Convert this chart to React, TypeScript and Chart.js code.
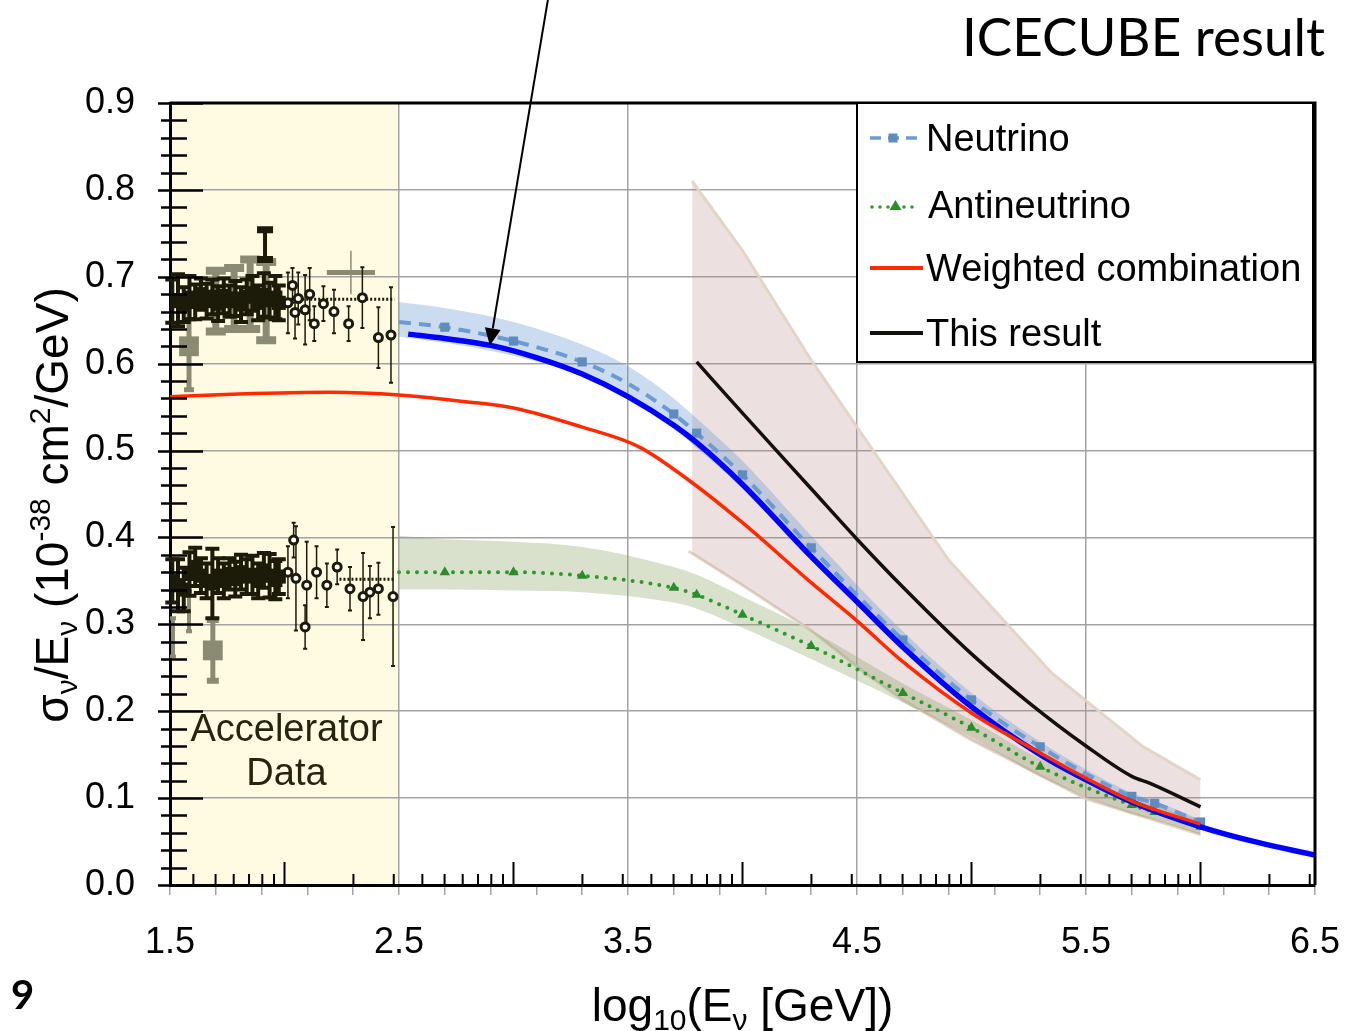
import React, { useEffect, useRef } from "react";
import { Chart, registerables } from "chart.js";

Chart.register(...registerables);

const FONT = "'Liberation Sans', Arial, Helvetica, sans-serif";
const TITLE_FONT = "Lato, 'Open Sans', sans-serif";

// ---------------- axes ----------------
const xRange = [1.5, 6.5];
const yRange = [0, 0.9];
const xLabelTicks = [1.5, 2.5, 3.5, 4.5, 5.5, 6.5];
const xStepTicks = [1.5, 1.7, 1.9, 2.1, 2.3, 2.5, 2.7, 2.9, 3.1, 3.3, 3.5, 3.7, 3.9, 4.1, 4.3, 4.5, 4.7, 4.9, 5.1, 5.3, 5.5, 5.7, 5.9, 6.1, 6.3, 6.5];
const xDecadesGeV = [10, 100, 1000, 10000, 100000, 1000000];
const xDecadeMultipliers = [2, 3, 4, 5, 6, 7, 8, 9];
const yLabelTicks = [0, 0.1, 0.2, 0.3, 0.4, 0.5, 0.6, 0.7, 0.8, 0.9];
const yMinorStep = 0.02;
const accelRegion = [1.5, 2.5];

// ---------------- model curves ----------------
const markerX = [2.7, 3.0, 3.3, 3.7, 3.8, 4.0, 4.3, 4.7, 5.0, 5.3, 5.7, 5.8, 6.0];

const nuX = [2.5, 2.7, 3.0, 3.3, 3.5, 3.7, 3.8, 4.0, 4.3, 4.7, 5.0, 5.3, 5.7, 5.8, 6.0];
const nuY = [0.648, 0.642, 0.626, 0.602, 0.577, 0.542, 0.52, 0.472, 0.388, 0.282, 0.213, 0.159, 0.102, 0.094, 0.0725];
const nuBandHi = [0.671, 0.664, 0.648, 0.622, 0.597, 0.56, 0.537, 0.488, 0.402, 0.292, 0.221, 0.165, 0.106, 0.097, 0.075];
const nuBandLo = [0.631, 0.624, 0.609, 0.586, 0.561, 0.525, 0.503, 0.457, 0.375, 0.272, 0.205, 0.153, 0.098, 0.09, 0.069];

const nubarX = [2.5, 2.7, 3.0, 3.3, 3.7, 3.8, 4.0, 4.3, 4.7, 5.0, 5.3, 5.7, 5.8, 6.0];
const nubarY = [0.36, 0.36, 0.36, 0.356, 0.342, 0.334, 0.311, 0.275, 0.221, 0.181, 0.136, 0.092, 0.084, 0.067];
const nubarBandHi = [0.402, 0.398, 0.395, 0.389, 0.366, 0.357, 0.332, 0.293, 0.232, 0.19, 0.145, 0.099, 0.091, 0.074];
const nubarBandLo = [0.34, 0.34, 0.339, 0.337, 0.325, 0.318, 0.296, 0.26, 0.21, 0.17, 0.125, 0.082, 0.075, 0.058];

const smX = [2.54, 2.7, 2.9, 3.1, 3.3, 3.5, 3.7, 3.8, 4.0, 4.3, 4.5, 4.7, 5.0, 5.3, 5.5, 5.7, 6.0, 6.25, 6.5];
const smY = [0.634, 0.629, 0.621, 0.607, 0.588, 0.562, 0.529, 0.509, 0.461, 0.378, 0.326, 0.274, 0.205, 0.15, 0.121, 0.0955, 0.067, 0.049, 0.0345];

const weightedX = [1.5, 1.8, 2.2, 2.5, 2.8, 3.0, 3.3, 3.55, 3.76, 4.0, 4.3, 4.5, 4.7, 5.0, 5.3, 5.5, 5.7, 6.0];
const weightedY = [0.562, 0.565, 0.567, 0.564, 0.556, 0.549, 0.527, 0.504, 0.467, 0.417, 0.348, 0.304, 0.257, 0.198, 0.152, 0.123, 0.0966, 0.07];

const resultX = [3.8, 4.0, 4.3, 4.5, 4.7, 5.0, 5.25, 5.5, 5.7, 5.78, 6.0];
const resultY = [0.602, 0.543, 0.456, 0.398, 0.343, 0.266, 0.21, 0.16, 0.125, 0.117, 0.09];

const resultBandHiX = [3.78, 4.0, 4.3, 4.5, 4.9, 5.35, 5.75, 6.0];
const resultBandHiY = [0.81, 0.73, 0.604, 0.527, 0.374, 0.244, 0.159, 0.121];
const resultBandLoX = [3.765, 4.0, 4.3, 4.53, 4.7, 5.0, 5.5, 6.0];
const resultBandLoY = [0.384, 0.345, 0.293, 0.245, 0.213, 0.167, 0.099, 0.058];

// ---------------- accelerator data ----------------
const accNuX = [1.51, 1.535, 1.56, 1.585, 1.61, 1.635, 1.66, 1.685, 1.71, 1.735, 1.76, 1.785, 1.81, 1.835, 1.86, 1.885, 1.91, 1.935, 1.96, 1.975];
const accNuY = [0.672, 0.673, 0.668, 0.676, 0.671, 0.68, 0.672, 0.677, 0.669, 0.678, 0.672, 0.675, 0.668, 0.677, 0.681, 0.67, 0.679, 0.673, 0.676, 0.67];
const accNuErr = [0.025, 0.03, 0.02, 0.025, 0.02, 0.018, 0.02, 0.02, 0.02, 0.02, 0.018, 0.02, 0.02, 0.02, 0.02, 0.02, 0.025, 0.02, 0.025, 0.02];

const accNuSmX = [2.015, 2.035, 2.046, 2.06, 2.09, 2.11, 2.13, 2.17, 2.216, 2.28, 2.34, 2.41, 2.465];
const accNuSmY = [0.67, 0.69, 0.659, 0.675, 0.662, 0.68, 0.646, 0.669, 0.66, 0.646, 0.676, 0.63, 0.633];
const accNuSmErr = [0.035, 0.02, 0.03, 0.03, 0.04, 0.03, 0.02, 0.02, 0.025, 0.02, 0.035, 0.035, 0.055];

const accNuOutX = [1.915];
const accNuOutY = [0.737];
const accNuOutErr = [0.017];

const accNuGrayBoxX = [1.583];
const accNuGrayBoxY = [0.62];
const accNuGrayBoxErr = [0.05];
const accNuGrayBarX = [1.7, 1.78, 1.85, 1.92];
const accNuGrayBarY = [0.672, 0.675, 0.68, 0.672];
const accNuGrayBarErr = [0.035, 0.035, 0.04, 0.045];
const accNuGrayHX = [2.29];
const accNuGrayHY = [0.705];
const accNuGrayHXErr = [0.105];
const accNuGrayHYErr = [0.025];

const accNuAvgX = [1.99, 2.48];
const accNuAvgY = [0.674, 0.674];

const accNubarX = [1.51, 1.535, 1.56, 1.585, 1.61, 1.635, 1.66, 1.685, 1.71, 1.735, 1.76, 1.785, 1.81, 1.835, 1.86, 1.885, 1.91, 1.935, 1.96, 1.975];
const accNubarY = [0.35, 0.345, 0.34, 0.358, 0.366, 0.356, 0.35, 0.347, 0.356, 0.35, 0.358, 0.352, 0.36, 0.355, 0.357, 0.35, 0.362, 0.356, 0.351, 0.355];
const accNubarErr = [0.025, 0.03, 0.025, 0.025, 0.022, 0.02, 0.02, 0.04, 0.02, 0.02, 0.018, 0.02, 0.02, 0.02, 0.022, 0.02, 0.02, 0.025, 0.022, 0.02];

const accNubarSmX = [2.015, 2.04, 2.05, 2.09, 2.097, 2.14, 2.185, 2.23, 2.286, 2.343, 2.373, 2.41, 2.474];
const accNubarSmY = [0.36, 0.397, 0.353, 0.297, 0.345, 0.36, 0.345, 0.366, 0.341, 0.332, 0.337, 0.341, 0.332];
const accNubarSmErr = [0.03, 0.02, 0.06, 0.025, 0.05, 0.03, 0.025, 0.02, 0.025, 0.05, 0.03, 0.03, 0.08];

const accNubarGrayBoxX = [1.687];
const accNubarGrayBoxY = [0.27];
const accNubarGrayBoxErr = [0.035];
const accNubarGrayBarX = [1.513, 1.583];
const accNubarGrayBarY = [0.285, 0.315];
const accNubarGrayBarErr = [0.022, 0.023];

const accNubarAvgX = [2.24, 2.48];
const accNubarAvgY = [0.352, 0.352];

// ---------------- annotations ----------------
const arrowFrom = { x: 3.151, y: 1.02 };
const arrowTo = { x: 2.897, y: 0.621 };
const accelLabelLines = ["Accelerator", "Data"];
const accelLabelY = [0.1656, 0.115];
const labelNu = "Neutrino";
const labelNubar = "Antineutrino";
const labelWeighted = "Weighted combination";
const labelResult = "This result";

// ---------------- colours ----------------
const C_NU = "#6b9bd0";
const C_NU_MARK = "#5f8cbf";
const C_NUBAR = "#2b9a2b";
const C_NUBAR_MARK = "#2a8c2a";
const C_SM = "#0000ff";
const C_RED = "#ff2a00";
const C_BLACK = "#151010";
const C_GRAY = "#8b8a72";
const C_ACC = "#1c1a08";
const C_GRID = "#a3a3a3";

const pts = (xs: number[], ys: number[]) => xs.map((x, i) => ({ x, y: ys[i] }));
const isMarker = (v: number) => markerX.some((m) => Math.abs(m - v) < 1e-6);

function drawErrBars(ctx: CanvasRenderingContext2D, xs: number[], ys: number[], errs: number[], sx: any, sy: any, color: string, lw: number, capHalf: number, capLw: number) {
  ctx.save();
  ctx.strokeStyle = color;
  for (let i = 0; i < xs.length; i++) {
    const px = sx.getPixelForValue(xs[i]);
    const top = sy.getPixelForValue(ys[i] + errs[i]);
    const bot = sy.getPixelForValue(ys[i] - errs[i]);
    ctx.lineWidth = lw;
    ctx.beginPath();
    ctx.moveTo(px, top);
    ctx.lineTo(px, bot);
    ctx.stroke();
    if (capHalf > 0) {
      ctx.lineWidth = capLw;
      ctx.beginPath();
      ctx.moveTo(px - capHalf, top);
      ctx.lineTo(px + capHalf, top);
      ctx.moveTo(px - capHalf, bot);
      ctx.lineTo(px + capHalf, bot);
      ctx.stroke();
    }
  }
  ctx.restore();
}

type Part = { t: string; s: number; dy?: number };
function drawRich(ctx: CanvasRenderingContext2D, parts: Part[], cx: number, baseY: number, rotate: boolean, baseX?: number) {
  ctx.save();
  let total = 0;
  const widths = parts.map((p) => {
    ctx.font = `${p.s}px ${FONT}`;
    const w = ctx.measureText(p.t).width;
    total += w;
    return w;
  });
  if (rotate) {
    ctx.translate(baseX as number, cx);
    ctx.rotate(-Math.PI / 2);
  } else {
    ctx.translate(cx, baseY);
  }
  ctx.fillStyle = "#000";
  ctx.textBaseline = "alphabetic";
  ctx.textAlign = "left";
  let x = -total / 2;
  parts.forEach((p, i) => {
    ctx.font = `${p.s}px ${FONT}`;
    ctx.fillText(p.t, x, p.dy || 0);
    x += widths[i];
  });
  ctx.restore();
}

const isLabelTick = (v: number) => xLabelTicks.some((t) => Math.abs(t - v) < 1e-6);

const overlayPlugin = {
  id: "overlay",
  beforeDraw(chart: any) {
    const { ctx, chartArea: a, scales } = chart;
    const sx = scales.x;
    ctx.save();
    ctx.fillStyle = "#ffffff";
    ctx.fillRect(0, 0, chart.width, chart.height);
    const x0 = sx.getPixelForValue(accelRegion[0]);
    const x1 = sx.getPixelForValue(accelRegion[1]);
    ctx.fillStyle = "#fefbe2";
    ctx.fillRect(x0, a.top, x1 - x0, a.bottom - a.top);
    ctx.restore();
  },
  beforeDatasetsDraw(chart: any) {
    const { ctx, scales } = chart;
    const sx = scales.x, sy = scales.y;
    drawErrBars(ctx, accNuGrayBoxX, accNuGrayBoxY, accNuGrayBoxErr, sx, sy, C_GRAY, 5, 5, 5);
    drawErrBars(ctx, accNuGrayBarX, accNuGrayBarY, accNuGrayBarErr, sx, sy, C_GRAY, 7, 10, 8);
    drawErrBars(ctx, accNubarGrayBoxX, accNubarGrayBoxY, accNubarGrayBoxErr, sx, sy, C_GRAY, 5, 6, 6);
    drawErrBars(ctx, accNubarGrayBarX, accNubarGrayBarY, accNubarGrayBarErr, sx, sy, C_GRAY, 4, 3, 4);
    ctx.save();
    ctx.strokeStyle = C_GRAY;
    ctx.lineWidth = 5;
    for (let i = 0; i < accNuGrayHX.length; i++) {
      const px0 = sx.getPixelForValue(accNuGrayHX[i] - accNuGrayHXErr[i]);
      const px1 = sx.getPixelForValue(accNuGrayHX[i] + accNuGrayHXErr[i]);
      const py = sy.getPixelForValue(accNuGrayHY[i]);
      ctx.beginPath();
      ctx.moveTo(px0, py);
      ctx.lineTo(px1, py);
      ctx.stroke();
    }
    ctx.restore();
    drawErrBars(ctx, accNuGrayHX, accNuGrayHY, accNuGrayHYErr, sx, sy, C_GRAY, 1.5, 0, 1);
    drawErrBars(ctx, accNuX, accNuY, accNuErr, sx, sy, C_ACC, 4, 7, 4);
    drawErrBars(ctx, accNubarX, accNubarY, accNubarErr, sx, sy, C_ACC, 4, 7, 4);
    drawErrBars(ctx, accNuSmX, accNuSmY, accNuSmErr, sx, sy, C_ACC, 1.5, 2, 2);
    drawErrBars(ctx, accNubarSmX, accNubarSmY, accNubarSmErr, sx, sy, C_ACC, 1.5, 2, 2);
    drawErrBars(ctx, accNuOutX, accNuOutY, accNuOutErr, sx, sy, C_ACC, 4, 8, 7);
  },
  afterDatasetsDraw(chart: any) {
    const { ctx, chartArea: a, scales } = chart;
    const sx = scales.x, sy = scales.y;
    ctx.save();

    ctx.strokeStyle = "#000";
    ctx.lineWidth = 3;
    ctx.beginPath();
    ctx.moveTo(a.left, a.top);
    ctx.lineTo(a.right, a.top);
    ctx.lineTo(a.right, a.bottom);
    ctx.stroke();

    ctx.lineWidth = 2.5;
    ctx.beginPath();
    for (let k = 0; k <= Math.round((yRange[1] - yRange[0]) / yMinorStep); k++) {
      const v = yRange[0] + k * yMinorStep;
      const py = Math.round(sy.getPixelForValue(v)) + 0.5;
      const major = yLabelTicks.some((t) => Math.abs(t - v) < 1e-6);
      if (major) {
        ctx.moveTo(a.left - 12, py);
        ctx.lineTo(a.left + 33, py);
      } else {
        ctx.moveTo(a.left - 9, py);
        ctx.lineTo(a.left + 17, py);
      }
    }
    ctx.stroke();

    ctx.lineWidth = 2;
    ctx.beginPath();
    xDecadesGeV.forEach((d) => {
      const lv = Math.log10(d);
      if (lv >= xRange[0] && lv <= xRange[1]) {
        const px = sx.getPixelForValue(lv);
        ctx.moveTo(px, a.bottom);
        ctx.lineTo(px, a.bottom - 23);
      }
      xDecadeMultipliers.forEach((m) => {
        const v = Math.log10(d * m);
        if (v >= xRange[0] && v <= xRange[1]) {
          const px = sx.getPixelForValue(v);
          ctx.moveTo(px, a.bottom);
          ctx.lineTo(px, a.bottom - 11);
        }
      });
    });
    ctx.stroke();

    ctx.fillStyle = "#26240f";
    ctx.font = `38px ${FONT}`;
    ctx.textAlign = "center";
    ctx.textBaseline = "alphabetic";
    const lx = (sx.getPixelForValue(accelRegion[0]) + sx.getPixelForValue(accelRegion[1])) / 2 + 2;
    accelLabelLines.forEach((t, i) => ctx.fillText(t, lx, sy.getPixelForValue(accelLabelY[i])));

    const ax0 = sx.getPixelForValue(arrowFrom.x), ay0 = sy.getPixelForValue(arrowFrom.y);
    const ax1 = sx.getPixelForValue(arrowTo.x), ay1 = sy.getPixelForValue(arrowTo.y);
    const ang = Math.atan2(ay1 - ay0, ax1 - ax0);
    const headL = 17, headW = 8;
    const bx = ax1 - headL * Math.cos(ang), by = ay1 - headL * Math.sin(ang);
    ctx.strokeStyle = "#000";
    ctx.fillStyle = "#000";
    ctx.lineWidth = 2;
    ctx.beginPath();
    ctx.moveTo(ax0, ay0);
    ctx.lineTo(bx, by);
    ctx.stroke();
    ctx.beginPath();
    ctx.moveTo(ax1, ay1);
    ctx.lineTo(bx + headW * Math.sin(ang), by - headW * Math.cos(ang));
    ctx.lineTo(bx - headW * Math.sin(ang), by + headW * Math.cos(ang));
    ctx.closePath();
    ctx.fill();

    const lgW = 456, lgH = 259;
    const lgX = a.right - lgW - 2, lgY = a.top;
    ctx.fillStyle = "#fff";
    ctx.fillRect(lgX, lgY, lgW, lgH);
    ctx.strokeStyle = "#000";
    ctx.lineWidth = 2;
    ctx.strokeRect(lgX, lgY, lgW, lgH);
    const sx0 = lgX + 13, sx1 = lgX + 62;
    const rows = [lgY + 35, lgY + 102, lgY + 165, lgY + 230];
    ctx.strokeStyle = C_NU;
    ctx.lineWidth = 3.5;
    ctx.setLineDash([11, 7]);
    ctx.beginPath();
    ctx.moveTo(sx0, rows[0]);
    ctx.lineTo(sx1 - 2, rows[0]);
    ctx.stroke();
    ctx.setLineDash([]);
    ctx.fillStyle = C_NU_MARK;
    ctx.fillRect((sx0 + sx1) / 2 - 6, rows[0] - 4.5, 9, 9);
    ctx.strokeStyle = C_NUBAR;
    ctx.lineWidth = 3.5;
    ctx.lineCap = "round";
    ctx.setLineDash([0, 8]);
    ctx.beginPath();
    ctx.moveTo(sx0 + 2, rows[1] + 2);
    ctx.lineTo(sx1 - 2, rows[1] + 2);
    ctx.stroke();
    ctx.setLineDash([]);
    ctx.lineCap = "butt";
    ctx.fillStyle = C_NUBAR_MARK;
    const tcx = (sx0 + sx1) / 2 + 1;
    ctx.beginPath();
    ctx.moveTo(tcx, rows[1] - 5);
    ctx.lineTo(tcx + 6, rows[1] + 5);
    ctx.lineTo(tcx - 6, rows[1] + 5);
    ctx.closePath();
    ctx.fill();
    ctx.strokeStyle = C_RED;
    ctx.lineWidth = 4;
    ctx.beginPath();
    ctx.moveTo(sx0, rows[2]);
    ctx.lineTo(sx1 + 4, rows[2]);
    ctx.stroke();
    ctx.strokeStyle = C_BLACK;
    ctx.beginPath();
    ctx.moveTo(sx0, rows[3]);
    ctx.lineTo(sx1 + 4, rows[3]);
    ctx.stroke();
    ctx.fillStyle = "#000";
    ctx.font = `38px ${FONT}`;
    ctx.textAlign = "left";
    ctx.textBaseline = "middle";
    [labelNu, labelNubar, labelWeighted, labelResult].forEach((t, i) => {
      ctx.fillText(t, lgX + 69 + (i === 1 ? 2 : 0), rows[i] + 3);
    });

    ctx.restore();
  },
  afterDraw(chart: any) {
    const { ctx, chartArea: a } = chart;
    ctx.save();
    drawRich(
      ctx,
      [
        { t: "σ", s: 46 },
        { t: "ν", s: 30, dy: 9 },
        { t: "/E", s: 46 },
        { t: "ν", s: 30, dy: 9 },
        { t: " (10", s: 46 },
        { t: "-38", s: 30, dy: -18 },
        { t: " cm", s: 46 },
        { t: "2", s: 30, dy: -18 },
        { t: "/GeV)", s: 46 },
      ],
      505,
      0,
      true,
      68
    );
    drawRich(
      ctx,
      [
        { t: "log", s: 46 },
        { t: "10", s: 30, dy: 9 },
        { t: "(E", s: 46 },
        { t: "ν", s: 30, dy: 9 },
        { t: " [GeV])", s: 46 },
      ],
      (a.left + a.right) / 2,
      1021,
      false
    );
    ctx.fillStyle = "#000";
    ctx.font = `53px ${TITLE_FONT}`;
    ctx.textAlign = "right";
    ctx.textBaseline = "alphabetic";
    ctx.fillText("ICECUBE result", 1325, 56);
    ctx.font = `bold 40px ${TITLE_FONT}`;
    ctx.textAlign = "left";
    ctx.fillText("9", 11, 1009);
    ctx.restore();
  },
};

export default function App() {
  const ref = useRef<HTMLCanvasElement | null>(null);
  useEffect(() => {
    document.body.style.margin = "0";
    const canvas = ref.current;
    if (!canvas) return;
    const lineBase = { pointRadius: 0, showLine: true, cubicInterpolationMode: "monotone" as const };
    const clear = "rgba(0,0,0,0)";
    const chart = new Chart(canvas, {
      type: "line",
      data: {
        datasets: [
          { ...lineBase, label: labelResult, data: pts(resultX, resultY), borderColor: C_BLACK, borderWidth: 3.5, order: 0, fill: false },
          { ...lineBase, label: labelWeighted, data: pts(weightedX, weightedY), borderColor: C_RED, borderWidth: 3.5, order: 1, fill: false },
          { ...lineBase, label: "Standard Model prediction", data: pts(smX, smY), borderColor: C_SM, borderWidth: 5.5, order: 2, fill: false },
          {
            ...lineBase,
            label: labelNu,
            data: pts(nuX, nuY),
            borderColor: C_NU,
            borderWidth: 4,
            borderDash: [12, 8],
            pointStyle: "rect",
            pointRadius: (c: any) => (c.raw && isMarker(c.raw.x) ? 6.5 : 0),
            pointBackgroundColor: C_NU_MARK,
            pointBorderColor: C_NU_MARK,
            pointBorderWidth: 0,
            order: 3,
            fill: false,
          },
          {
            ...lineBase,
            label: labelNubar,
            data: pts(nubarX, nubarY),
            borderColor: C_NUBAR,
            borderWidth: 4,
            borderDash: [0, 9],
            borderCapStyle: "round",
            pointStyle: "triangle",
            pointRadius: (c: any) => (c.raw && isMarker(c.raw.x) ? 6 : 0),
            pointBackgroundColor: C_NUBAR_MARK,
            pointBorderColor: C_NUBAR_MARK,
            pointBorderWidth: 0,
            order: 4,
            fill: false,
          },
          { label: "acc nu", data: pts(accNuX, accNuY), showLine: false, pointStyle: "rect", pointRadius: 10, pointBackgroundColor: C_ACC, pointBorderColor: C_ACC, pointBorderWidth: 0, order: 5 },
          { label: "acc nubar", data: pts(accNubarX, accNubarY), showLine: false, pointStyle: "rect", pointRadius: 10, pointBackgroundColor: C_ACC, pointBorderColor: C_ACC, pointBorderWidth: 0, order: 5 },
          { label: "acc nu small", data: pts(accNuSmX, accNuSmY), showLine: false, pointStyle: "circle", pointRadius: 4, pointBackgroundColor: "#fff", pointBorderColor: C_ACC, pointBorderWidth: 3, order: 5 },
          { label: "acc nubar small", data: pts(accNubarSmX, accNubarSmY), showLine: false, pointStyle: "circle", pointRadius: 4, pointBackgroundColor: "#fff", pointBorderColor: C_ACC, pointBorderWidth: 3, order: 5 },
          { label: "acc nu gray", data: pts(accNuGrayBoxX, accNuGrayBoxY), showLine: false, pointStyle: "rect", pointRadius: 14, pointBackgroundColor: C_GRAY, pointBorderColor: C_GRAY, pointBorderWidth: 0, order: 6 },
          { label: "acc nubar gray", data: pts(accNubarGrayBoxX, accNubarGrayBoxY), showLine: false, pointStyle: "rect", pointRadius: 14, pointBackgroundColor: C_GRAY, pointBorderColor: C_GRAY, pointBorderWidth: 0, order: 6 },
          { label: "acc nu mean", data: pts(accNuAvgX, accNuAvgY), showLine: true, pointRadius: 0, borderColor: C_ACC, borderWidth: 3, borderDash: [2, 2], order: 5, fill: false },
          { label: "acc nubar mean", data: pts(accNubarAvgX, accNubarAvgY), showLine: true, pointRadius: 0, borderColor: C_ACC, borderWidth: 3, borderDash: [2, 2], order: 5, fill: false },
          { ...lineBase, label: "nu band hi", data: pts(nuX, nuBandHi), borderColor: clear, borderWidth: 1, backgroundColor: "rgba(100,150,210,0.33)", fill: "+1", order: 7 },
          { ...lineBase, label: "nu band lo", data: pts(nuX, nuBandLo), borderColor: clear, borderWidth: 1, fill: false, order: 7 },
          { ...lineBase, label: "nubar band hi", data: pts(nubarX, nubarBandHi), borderColor: clear, borderWidth: 1, backgroundColor: "rgba(140,160,100,0.33)", fill: "+1", order: 8 },
          { ...lineBase, label: "nubar band lo", data: pts(nubarX, nubarBandLo), borderColor: clear, borderWidth: 1, fill: false, order: 8 },
          { ...lineBase, cubicInterpolationMode: "default", tension: 0, label: "result band hi", data: pts(resultBandHiX, resultBandHiY), borderColor: "rgba(226,212,198,0.95)", borderWidth: 3, backgroundColor: "rgba(185,135,135,0.26)", fill: "+1", order: 9 },
          { ...lineBase, cubicInterpolationMode: "default", tension: 0, label: "result band lo", data: pts(resultBandLoX, resultBandLoY), borderColor: "rgba(226,212,198,0.95)", borderWidth: 3, fill: false, order: 9 },
        ] as any,
      },
      options: {
        responsive: false,
        animation: false,
        devicePixelRatio: 1,
        layout: { padding: { top: 103, right: 44, bottom: 0, left: 0 } },
        plugins: { legend: { display: false }, tooltip: { enabled: false } },
        scales: {
          x: {
            type: "linear",
            min: xRange[0],
            max: xRange[1],
            afterBuildTicks: (s: any) => {
              s.ticks = xStepTicks.map((v) => ({ value: v }));
            },
            afterFit: (s: any) => {
              s.height = 146;
              s.paddingLeft = 0;
              s.paddingRight = 0;
            },
            ticks: {
              autoSkip: false,
              maxRotation: 0,
              padding: 26,
              color: "#000",
              font: { family: FONT, size: 36 },
              callback: (v: any) => (isLabelTick(Number(v)) ? Number(v).toFixed(1) : ""),
            },
            grid: {
              color: (c: any) => (c.tick && isLabelTick(c.tick.value) ? C_GRID : "rgba(0,0,0,0)"),
              tickColor: C_GRID,
              tickLength: 10,
              lineWidth: 1.5,
              drawTicks: true,
            },
            border: { display: true, color: "#000", width: 3 },
          },
          y: {
            type: "linear",
            min: yRange[0],
            max: yRange[1],
            afterFit: (s: any) => {
              s.width = 170;
              s.paddingTop = 0;
              s.paddingBottom = 0;
            },
            ticks: {
              stepSize: 0.1,
              padding: 35,
              color: "#000",
              font: { family: FONT, size: 36 },
              callback: (v: any) => Number(v).toFixed(1),
            },
            grid: { color: C_GRID, lineWidth: 1.5, drawTicks: false },
            border: { display: true, color: "#000", width: 3 },
          },
        },
      } as any,
      plugins: [overlayPlugin],
    });
    return () => chart.destroy();
  }, []);
  return (
    <canvas
      ref={ref}
      width={1359}
      height={1031}
      style={{ position: "absolute", left: 0, top: 0, width: 1359, height: 1031 }}
    />
  );
}
